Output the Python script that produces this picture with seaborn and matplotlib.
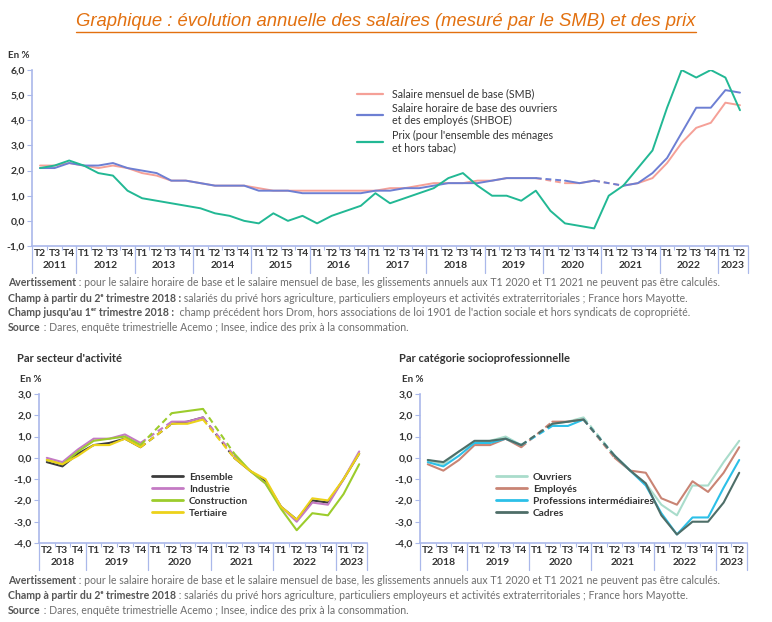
import numpy as np
import pandas as pd
import matplotlib.pyplot as plt
import seaborn as sns
from matplotlib.lines import Line2D

nan = np.nan

# ---- data : top chart (T2 2011 -> T2 2023) ----
top_years = [2011] * 3 + [y for y in range(2012, 2023) for _ in range(4)] + [2023] * 2
top_quarters = ["T2", "T3", "T4"] + ["T1", "T2", "T3", "T4"] * 11 + ["T1", "T2"]

smb = [2.2, 2.2, 2.3, 2.2, 2.1, 2.2, 2.1, 1.9, 1.8, 1.6, 1.6, 1.5, 1.4, 1.4, 1.4, 1.3,
       1.2, 1.2, 1.2, 1.2, 1.2, 1.2, 1.2, 1.2, 1.3, 1.3, 1.4, 1.5, 1.5, 1.5, 1.6, 1.6,
       1.7, 1.7, 1.7, nan, 1.5, 1.5, 1.6, nan, 1.4, 1.5, 1.7, 2.3, 3.1, 3.7, 3.9, 4.7, 4.6]
shboe = [2.1, 2.1, 2.3, 2.2, 2.2, 2.3, 2.1, 2.0, 1.9, 1.6, 1.6, 1.5, 1.4, 1.4, 1.4, 1.2,
         1.2, 1.2, 1.1, 1.1, 1.1, 1.1, 1.1, 1.2, 1.2, 1.3, 1.3, 1.4, 1.5, 1.5, 1.5, 1.6,
         1.7, 1.7, 1.7, nan, 1.6, 1.5, 1.6, nan, 1.4, 1.5, 1.9, 2.5, 3.5, 4.5, 4.5, 5.2, 5.1]
prix = [2.1, 2.2, 2.4, 2.2, 1.9, 1.8, 1.2, 0.9, 0.8, 0.7, 0.6, 0.5, 0.3, 0.2, 0.0, -0.1,
        0.3, 0.0, 0.2, -0.1, 0.2, 0.4, 0.6, 1.1, 0.7, 0.9, 1.1, 1.3, 1.7, 1.9, 1.4, 1.0,
        1.0, 0.8, 1.2, 0.4, -0.1, -0.2, -0.3, 1.0, 1.4, 2.1, 2.8, 4.5, 6.0, 5.7, 6.0, 5.7, 4.4]

# ---- data : bottom charts (T2 2018 -> T2 2023) ----
bot_years = [2018] * 3 + [y for y in range(2019, 2023) for _ in range(4)] + [2023] * 2
bot_quarters = ["T2", "T3", "T4"] + ["T1", "T2", "T3", "T4"] * 4 + ["T1", "T2"]

ensemble = [-0.2, -0.4, 0.2, 0.6, 0.7, 0.9, 0.5, nan, 1.6, 1.7, 1.9, nan, 0.0, -0.6, -1.1, -2.3, -2.9, -2.0, -2.1, -1.0, 0.2]
industrie = [0.0, -0.2, 0.4, 0.9, 0.9, 1.1, 0.7, nan, 1.7, 1.7, 1.9, nan, 0.1, -0.6, -1.2, -2.3, -3.0, -2.1, -2.2, -1.0, 0.3]
construction = [-0.1, -0.3, 0.3, 0.8, 0.9, 1.0, 0.6, nan, 2.1, 2.2, 2.3, nan, 0.2, -0.6, -1.2, -2.4, -3.4, -2.6, -2.7, -1.7, -0.3]
tertiaire = [-0.1, -0.3, 0.1, 0.6, 0.6, 0.9, 0.5, nan, 1.6, 1.6, 1.8, nan, 0.0, -0.6, -1.0, -2.3, -2.9, -1.9, -2.0, -1.0, 0.2]

ouvriers = [-0.1, -0.3, 0.3, 0.7, 0.8, 1.0, 0.6, nan, 1.6, 1.7, 1.9, nan, 0.1, -0.6, -1.2, -2.2, -2.7, -1.3, -1.3, -0.2, 0.8]
employes = [-0.3, -0.6, -0.1, 0.6, 0.6, 0.9, 0.5, nan, 1.7, 1.7, 1.8, nan, 0.0, -0.6, -0.7, -1.9, -2.2, -1.1, -1.6, -0.7, 0.5]
prof_int = [-0.2, -0.4, 0.1, 0.7, 0.7, 0.9, 0.6, nan, 1.5, 1.5, 1.8, nan, 0.1, -0.6, -1.3, -2.6, -3.6, -2.8, -2.8, -1.4, -0.1]
cadres = [-0.1, -0.2, 0.3, 0.8, 0.8, 0.9, 0.6, nan, 1.6, 1.7, 1.8, nan, 0.1, -0.6, -1.2, -2.7, -3.6, -3.0, -3.0, -2.1, -0.7]

top_series = [("Salaire mensuel de base (SMB)", smb, "#f5a097"),
              ("Salaire horaire de base des ouvriers\net des employés (SHBOE)", shboe, "#6d7fd3"),
              ("Prix (pour l'ensemble des ménages\net hors tabac)", prix, "#22b894")]
sect_series = [("Ensemble", ensemble, "#3c3c3c"),
               ("Industrie", industrie, "#c47ac4"),
               ("Construction", construction, "#9ccc2c"),
               ("Tertiaire", tertiaire, "#ecd21a")]
csp_series = [("Ouvriers", ouvriers, "#a9dccb"),
              ("Employés", employes, "#c98474"),
              ("Professions intermédiaires", prof_int, "#2cc0e8"),
              ("Cadres", cadres, "#4e6e68")]

sns.set_theme(style="white")
plt.rcParams['font.family'] = ['Lato', 'DejaVu Sans']

AXCOL = "#aab8ea"
TXT = "#333333"
W, H = 772, 622

fig = plt.figure(figsize=(W / 100, H / 100), dpi=100)
renderer = fig.canvas.get_renderer()


def draw_series(ax, values, color, lw=1.4):
    df = pd.DataFrame({"x": np.arange(len(values)), "y": values})
    df["seg"] = df["y"].isna().cumsum()
    df = df.dropna()
    sns.lineplot(data=df, x="x", y="y", units="seg", estimator=None, color=color,
                 lw=lw, ax=ax, legend=False)
    # dashed bridge over the missing quarters
    for i, v in enumerate(values):
        if np.isnan(v) and 0 < i < len(values) - 1:
            sns.lineplot(x=[i - 1, i + 1], y=[values[i - 1], values[i + 1]], color=color,
                         lw=lw, ls=(0, (3, 2)), ax=ax, legend=False)


def style_axis(ax, quarters, years, yticks, pad_x=0.5):
    n = len(quarters)
    ax.set_xlim(-pad_x, n - 1 + pad_x)
    ax.set_ylim(yticks[0], yticks[-1])
    ax.set_yticks(yticks)
    ax.set_yticklabels([f"{v:.1f}".replace(".", ",") for v in yticks],
                       fontsize=7.5, color=TXT, fontweight="bold")
    ax.set_xticks(range(n))
    ax.set_xticklabels(quarters, fontsize=7.5, color=TXT, fontweight="bold")
    ax.set_xticks(np.arange(0.5, n - 1, 1), minor=True)
    ax.tick_params(axis="x", which="major", length=0, pad=2)
    ax.tick_params(axis="x", which="minor", length=3, color=AXCOL, width=0.8, bottom=True)
    ax.tick_params(axis="y", length=3.5, color=AXCOL, width=0.8, pad=1.5, left=True)
    ax.set_xlabel("")
    ax.set_ylabel("")
    for s in ["top", "right"]:
        ax.spines[s].set_visible(False)
    for s in ["left", "bottom"]:
        ax.spines[s].set_color(AXCOL)
        ax.spines[s].set_linewidth(1.2)
    # year labels and separators
    yrs = np.array(years)
    axh = ax.bbox.height
    bounds = [-pad_x]
    for y in sorted(set(years)):
        idx = np.where(yrs == y)[0]
        ax.annotate(str(y), xy=(idx.mean(), 0), xycoords=("data", "axes fraction"),
                    xytext=(0, -19.5), textcoords="offset pixels", ha="center", va="center",
                    fontsize=7.5, color=TXT, fontweight="bold")
        bounds.append(idx[-1] + 0.5 if idx[-1] < n - 1 else n - 1 + pad_x)
    for b in bounds:
        ax.axvline(b, ymin=-27 / axh, ymax=0, color=AXCOL, lw=0.9, clip_on=False)


# ---- title ----
title = fig.text(0.5, 1 - 22 / H, "Graphique : évolution annuelle des salaires (mesuré par le SMB) et des prix",
                 ha="center", va="center", fontsize=13.3, style="italic", color="#e2700f",
                 family=["Liberation Sans", "DejaVu Sans"])
tb = title.get_window_extent(renderer)
fig.add_artist(Line2D([tb.x0 / W, tb.x1 / W], [(tb.y0 - 1) / H, (tb.y0 - 1) / H],
                      color="#e2700f", lw=1.0))

# ---- top chart ----
ax_top = fig.add_axes([32 / W, 1 - 246 / H, 716 / W, 176 / H])
for label, vals, col in top_series:
    draw_series(ax_top, vals, col)
style_axis(ax_top, top_quarters, top_years, [-1, 0, 1, 2, 3, 4, 5, 6], pad_x=0.55)
fig.text(8 / W, 1 - 55 / H, "En %", fontsize=7, color=TXT, fontweight="bold", va="center")
handles = [Line2D([], [], color=c, lw=1.6) for _, _, c in top_series]
ax_top.legend(handles, [l for l, _, _ in top_series], loc="upper left",
              bbox_to_anchor=(0.441, 0.95), frameon=False, fontsize=7.7,
              handlelength=2.4, handletextpad=0.8, labelspacing=0.3, labelcolor=TXT)


def note_lines(lines, y0, step):
    for k, parts in enumerate(lines):
        x = 8 / W
        y = 1 - (y0 + k * step) / H
        for txt, bold in parts:
            t = fig.text(x, y, txt, fontsize=7.6, va="center", ha="left",
                         color="#555555" if bold else "#6e6e6e",
                         fontweight="bold" if bold else "normal")
            x = t.get_window_extent(renderer).x1 / W


note_lines([
    [("Avertissement", True), (" : pour le salaire horaire de base et le salaire mensuel de base, les glissements annuels aux T1 2020 et T1 2021 ne peuvent pas être calculés.", False)],
    [("Champ à partir du 2ᵉ trimestre 2018 :", True), (" salariés du privé hors agriculture, particuliers employeurs et activités extraterritoriales ; France hors Mayotte.", False)],
    [("Champ jusqu'au 1ᵉʳ trimestre 2018 :", True), ("  champ précédent hors Drom, hors associations de loi 1901 de l'action sociale et hors syndicats de copropriété.", False)],
    [("Source", True), (" : Dares, enquête trimestrielle Acemo ; Insee, indice des prix à la consommation.", False)],
], 283, 15)

# ---- bottom charts ----
panels = [
    ("Par secteur d'activité", sect_series, 39, 367, 17, (0.318, 0.535)),
    ("Par catégorie socioprofessionnelle", csp_series, 420, 747, 399, (0.205, 0.535)),
]
for ptitle, series, x0, x1, tx, anchor in panels:
    ax = fig.add_axes([x0 / W, 1 - 543 / H, (x1 - x0) / W, 149 / H])
    for label, vals, col in series:
        draw_series(ax, vals, col, lw=1.5)
    style_axis(ax, bot_quarters, bot_years, [-4, -3, -2, -1, 0, 1, 2, 3], pad_x=0.5)
    fig.text(tx / W, 1 - 359 / H, ptitle, fontsize=8, color=TXT, fontweight="bold", va="center")
    fig.text((tx + 3) / W, 1 - 379 / H, "En %", fontsize=7, color=TXT, fontweight="bold", va="center")
    handles = [Line2D([], [], color=c, lw=2) for _, _, c in series]
    ax.legend(handles, [l for l, _, _ in series], loc="upper left", bbox_to_anchor=anchor,
              frameon=False, handlelength=3.0, handletextpad=0.6,
              labelspacing=0.3, labelcolor=TXT, prop={"weight": "bold", "size": 7.3})

note_lines([
    [("Avertissement", True), (" : pour le salaire horaire de base et le salaire mensuel de base, les glissements annuels aux T1 2020 et T1 2021 ne peuvent pas être calculés.", False)],
    [("Champ à partir du 2ᵉ trimestre 2018", True), (" : salariés du privé hors agriculture, particuliers employeurs et activités extraterritoriales ; France hors Mayotte.", False)],
    [("Source", True), (" : Dares, enquête trimestrielle Acemo ; Insee, indice des prix à la consommation.", False)],
], 580, 15.5)

fig.savefig("out.png", dpi=100, facecolor="white")
